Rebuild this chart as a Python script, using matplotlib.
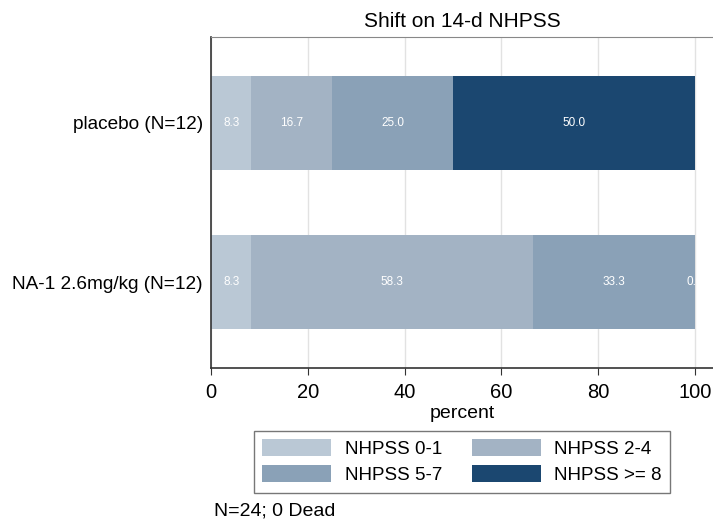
import matplotlib
matplotlib.use("Agg")
import matplotlib.pyplot as plt
from matplotlib.patches import Patch

plt.rcParams['font.family'] = ['Liberation Sans', 'DejaVu Sans']

groups = ["NA-1 2.6mg/kg (N=12)", "placebo (N=12)"]
categories = ["NHPSS 0-1", "NHPSS 2-4", "NHPSS 5-7", "NHPSS >= 8"]
na1 = [8.3, 58.3, 33.3, 0.0]
placebo = [8.3, 16.7, 25.0, 50.0]
colors = ["#bac8d5", "#a3b3c4", "#8aa1b7", "#1b4770"]

fig = plt.figure(figsize=(7.13, 5.2), dpi=100)
ax = fig.add_axes([0.296, 0.292, 0.704, 0.637])

rows = [na1, placebo]
for y, vals in enumerate(rows):
    left = 0
    for i, v in enumerate(vals):
        ax.barh(y, v, left=left, height=0.59, color=colors[i], linewidth=0, zorder=2)
        ax.text(left + v / 2, y, "%.1f" % v, color="white", fontsize=8.5,
                ha="center", va="center", zorder=3)
        left += v

ax.set_xlim(0, 103.7)
ax.set_ylim(-0.54, 1.54)
ax.set_xticks([0, 20, 40, 60, 80, 100])
ax.set_yticks([0, 1])
ax.set_yticklabels(groups, fontsize=13.7)
ax.tick_params(axis="x", labelsize=14.5, length=5, color="#333333", pad=6)
ax.tick_params(axis="y", length=0, pad=6)
ax.xaxis.grid(True, color="#e2e2e2", linewidth=1, zorder=0)
ax.set_axisbelow(True)
for s in ["left", "bottom"]:
    ax.spines[s].set_color("#333333")
    ax.spines[s].set_linewidth(1.2)
ax.spines["top"].set_color("#888888")
ax.spines["right"].set_visible(False)

ax.set_xlabel("percent", fontsize=14, labelpad=2)
ax.set_title("Shift on 14-d NHPSS", fontsize=15, pad=7)

handles = [Patch(facecolor=c, edgecolor="none", label=l) for c, l in zip(colors, categories)]
order = [0, 2, 1, 3]
fig.legend(handles=[handles[k] for k in order], ncol=2, loc="center",
           bbox_to_anchor=(0.648, 0.1125),
           fontsize=13.5, frameon=True, fancybox=False, edgecolor="#555555",
           handlelength=3.7, handleheight=1.0, handletextpad=0.7, columnspacing=1.6,
           labelspacing=0.4, borderpad=0.45)

fig.text(0.30, 0.018, "N=24; 0 Dead", fontsize=14, ha="left", va="center")

fig.savefig("out.png", dpi=100)
